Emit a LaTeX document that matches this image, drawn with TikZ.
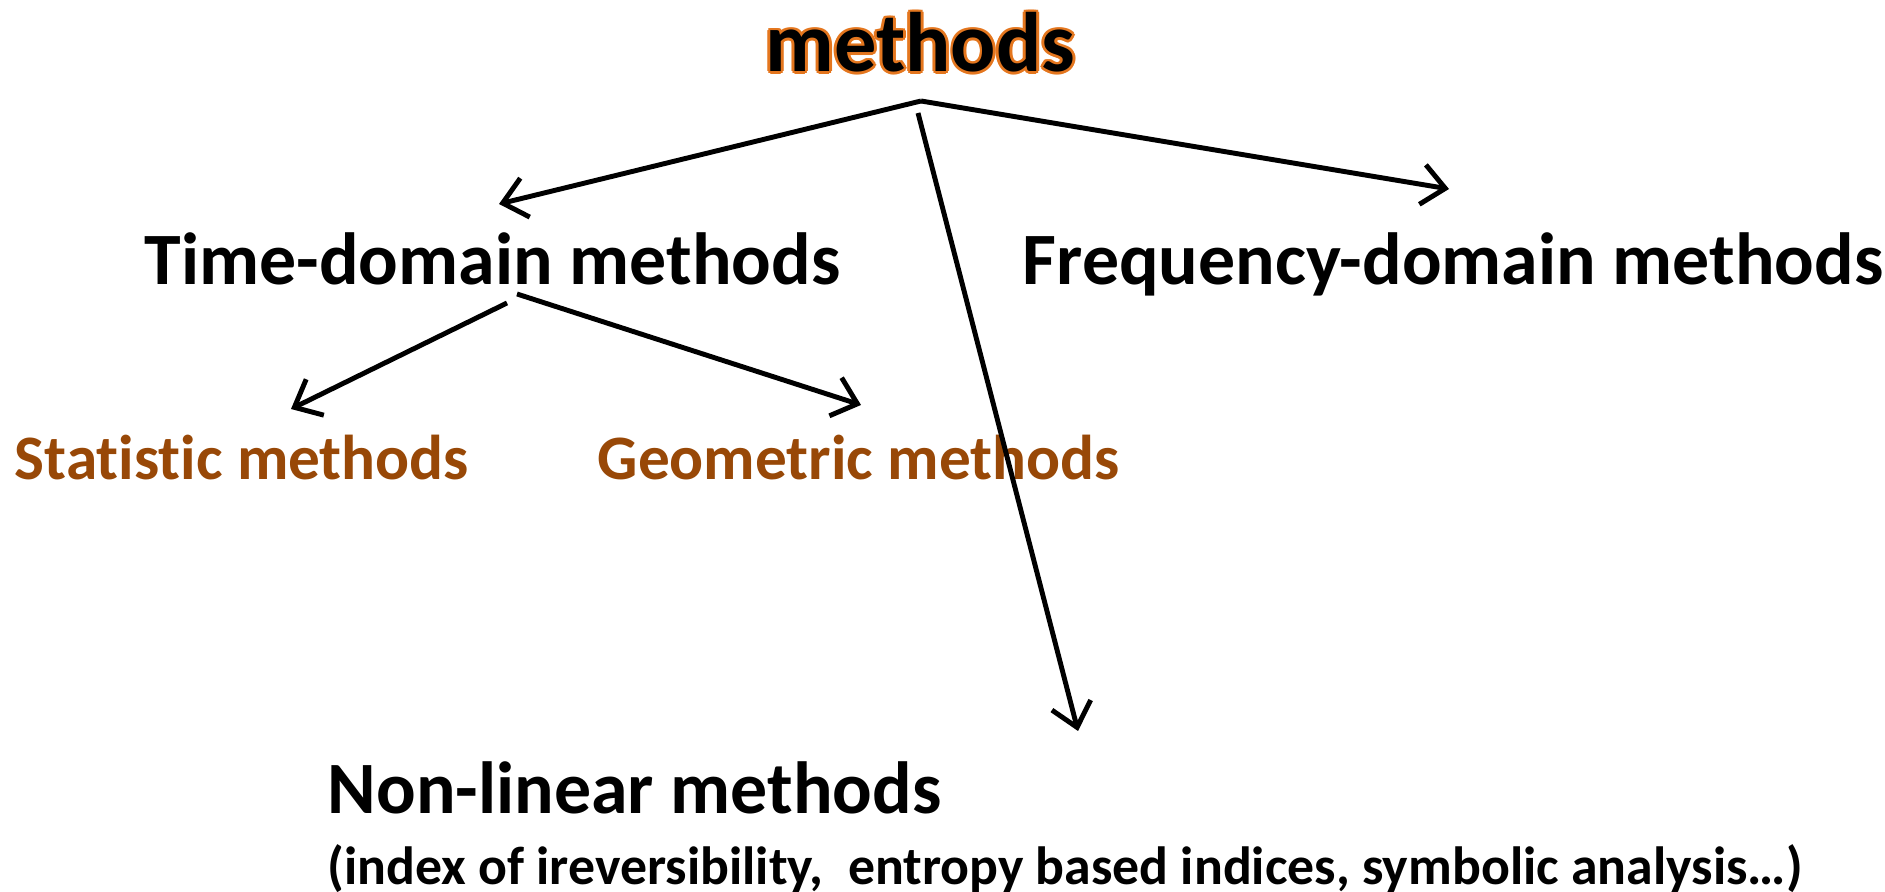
\documentclass[tikz,border=0pt]{standalone}
\usepackage{fontspec}
\setmainfont{Carlito}[Ligatures=NoCommon]
\usetikzlibrary{arrows.meta,positioning,calc}
\definecolor{rust}{RGB}{152,72,7}
\definecolor{glow}{RGB}{228,118,30}
\definecolor{ink}{RGB}{0,0,0}
\tikzset{
  >={Straight Barb[length=2.3mm,width=4mm]},
  flow/.style={->,line width=1.4pt,draw=#1},
  flow/.default=ink,
  head/.style={anchor=base west,inner sep=0pt,font=\fontsize{21}{25}\selectfont\bfseries,text=ink},
  top/.style={head,font=\fontsize{24}{28}\selectfont\bfseries,text=#1},
  top/.default=ink,
  sub/.style={anchor=base west,inner sep=0pt,font=\fontsize{18}{22}\selectfont\bfseries,text=rust},
  note/.style={anchor=base west,inner sep=0pt,font=\fontsize{15.3}{18}\selectfont\bfseries,text=ink},
}
\begin{document}
\begin{tikzpicture}[x=0.01cm,y=-0.01cm]
  \useasboundingbox (0,0) rectangle (1885,892);
  % title with orange rim
  \foreach \a in {0,45,...,315}
    \node[top=glow] (rim\a) at ($(765,72)+(\a:0.8pt)$) {methods};
  \node[top] (title) at (765,72) {methods};
  % levels
  \node[head] (time) at (144,285) {Time-domain methods};
  \node[head] (freq) at (1022,285) {Frequency-domain methods};
  \node[sub] (stat) at (14,480) {Statistic methods};
  \node[sub] (geom) at (597,480) {Geometric methods};
  \node[head] (nonlin) at (327,814) {Non-linear methods};
  \node[note] (nlnote) at (327,884) {(index of ireversibility,\ \ entropy based indices, symbolic analysis\dots)};
  % arrow ends
  \coordinate (hub) at (921,101);
  \coordinate (hubb) at (918,113);
  \coordinate (timetip) at (499,204);
  \coordinate (freqtip) at (1449,189);
  \coordinate (nontip) at (1078,731);
  \coordinate (tdhub) at (517,294);
  \coordinate (tdhubb) at (507,303);
  \coordinate (geomtip) at (861,405);
  \coordinate (stattip) at (291,409);
  \draw[flow] (hub) -- (timetip);
  \draw[flow] (hub) -- (freqtip);
  \draw[flow] (hubb) -- (nontip);
  \draw[flow] (tdhub) -- (geomtip);
  \draw[flow] (tdhubb) -- (stattip);
\end{tikzpicture}
\end{document}
